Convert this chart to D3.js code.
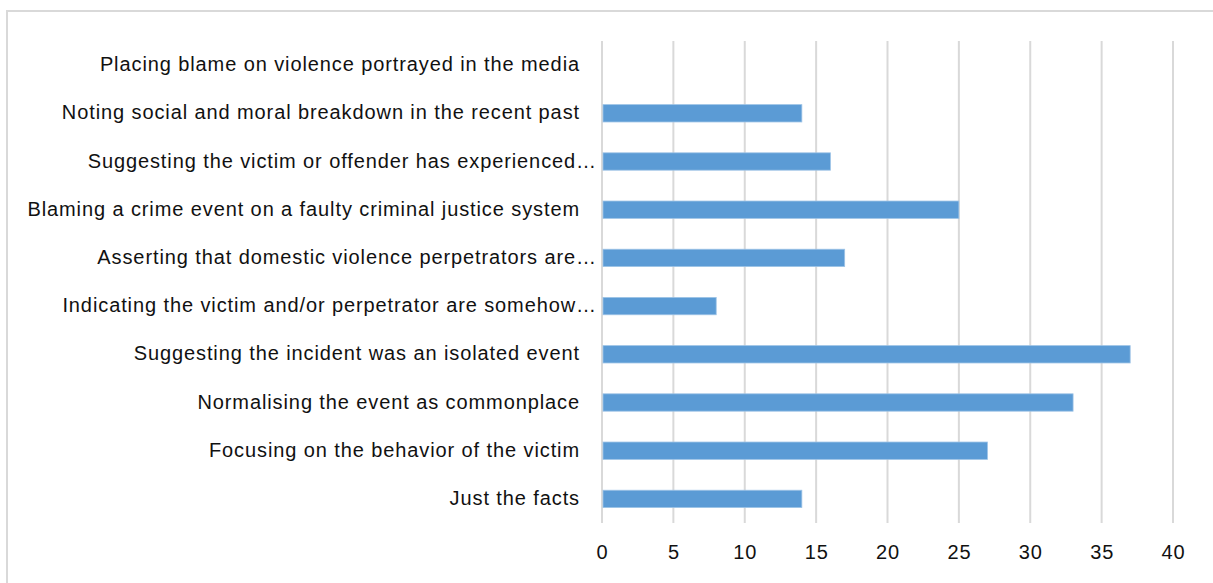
<!DOCTYPE html>
<html>
<head>
<meta charset="utf-8">
<script src="https://cdn.jsdelivr.net/npm/d3@7"></script>
<style>
  body { margin: 0; background: #fff; }
  text { font-family: "Liberation Sans", Arial, sans-serif; }
</style>
</head>
<body>
<script>
// categories, top to bottom as drawn
var categories = [
  "Placing blame on violence portrayed in the media",
  "Noting social and moral breakdown in the recent past",
  "Suggesting the victim or offender has experienced…",
  "Blaming a crime event on a faulty criminal justice system",
  "Asserting that domestic violence perpetrators are…",
  "Indicating the victim and/or perpetrator are somehow…",
  "Suggesting the incident was an isolated event",
  "Normalising the event as commonplace",
  "Focusing on the behavior of the victim",
  "Just the facts"
];
var counts = [0, 14, 16, 25, 17, 8, 37, 33, 27, 14];
var xTicks = [0, 5, 10, 15, 20, 25, 30, 35, 40];

var width = 1213, height = 583;
var plot = {left: 602, right: 1173, top: 41, bottom: 523};

var svg = d3.select("body").append("svg")
    .attr("width", width)
    .attr("height", height);

// chart frame
svg.append("rect")
    .attr("x", 7).attr("y", 11)
    .attr("width", 1230).attr("height", 600)
    .attr("fill", "none")
    .attr("stroke", "#d9d9d9")
    .attr("stroke-width", 2);

var x = d3.scaleLinear().domain([0, 40]).range([plot.left, plot.right]);
var y = d3.scaleBand().domain(categories)
    .range([plot.top, plot.bottom])
    .paddingInner(0.64).paddingOuter(0.32);

// vertical gridlines
svg.append("g").selectAll("line")
    .data(xTicks)
    .enter().append("line")
    .attr("x1", function(d) { return x(d); })
    .attr("x2", function(d) { return x(d); })
    .attr("y1", plot.top).attr("y2", plot.bottom)
    .attr("stroke", "#d9d9d9")
    .attr("stroke-width", 2);

// bars
svg.append("g").selectAll("rect")
    .data(counts)
    .enter().append("rect")
    .attr("x", x(0) + 1)
    .attr("y", function(d, i) { return y(categories[i]); })
    .attr("width", function(d) { return Math.max(0, x(d) - x(0) - 1); })
    .attr("height", y.bandwidth())
    .attr("fill", "#5b9bd5")
    .attr("stroke", function(d) { return d > 0 ? "#9dc3e6" : "none"; })
    .attr("stroke-width", 0.8);

// x axis labels
var xAxis = d3.axisBottom(x).tickValues(xTicks).tickSize(0).tickPadding(0);
var gx = svg.append("g")
    .attr("transform", "translate(0," + (plot.bottom + 22) + ")")
    .call(xAxis);
gx.select(".domain").remove();
gx.selectAll("text")
    .attr("font-size", 20)
    .attr("fill", "#111")
    .attr("dy", "0.71em")
    .style("letter-spacing", "0.8px")
    .style("font-family", '"Liberation Sans", Arial, sans-serif');

// category labels
svg.append("g").selectAll("text")
    .data(categories)
    .enter().append("text")
    .attr("x", function(d) { return d.endsWith("…") ? 597 : 580; })
    .attr("y", function(d) { return y(d) + y.bandwidth() / 2 - 1; })
    .attr("dy", "0.35em")
    .attr("text-anchor", "end")
    .attr("font-size", 20)
    .attr("fill", "#111")
    .style("letter-spacing", "0.9px")
    .text(function(d) { return d; });
</script>
</body>
</html>
